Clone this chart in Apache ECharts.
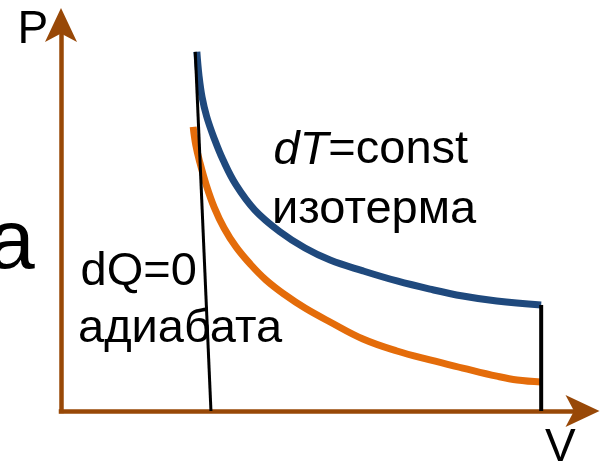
<!DOCTYPE html>
<html>
<head>
<meta charset="utf-8">
<script src="https://cdn.jsdelivr.net/npm/echarts@6/dist/echarts.min.js"></script>
<style>
html,body{margin:0;padding:0;background:#fff;}
#c{width:604px;height:466px;}
</style>
</head>
<body>
<div id="c"></div>
<script>
// Isotherm (blue) – [V, P]
const isothermV = [2.60, 2.64, 2.70, 2.79, 2.93, 3.10, 3.35, 3.71, 4.19, 4.67, 5.15, 5.78, 6.43, 7.06, 7.69, 8.34, 9.19];
const isothermP = [9.28, 8.68, 8.11, 7.60, 7.05, 6.49, 5.84, 5.19, 4.63, 4.21, 3.90, 3.62, 3.36, 3.15, 2.97, 2.84, 2.74];
// Adiabat (orange) – [V, P]
const adiabatV = [2.53, 2.58, 2.66, 2.78, 2.93, 3.12, 3.35, 3.62, 3.92, 4.29, 4.67, 5.15, 5.78, 6.43, 7.06, 7.69, 8.34, 8.73, 9.19];
const adiabatP = [7.34, 6.87, 6.41, 5.84, 5.27, 4.73, 4.24, 3.80, 3.39, 3.00, 2.66, 2.30, 1.86, 1.55, 1.32, 1.11, 0.90, 0.80, 0.75];
// Steep straight black line
const steepV = [2.57, 2.87];
const steepP = [9.28, 0];
// Vertical black line at the end volume
const endV = [9.19, 9.19];
const endP = [2.74, 0];

const axisTitles = ['P', 'V'];
const isoLabel = ['dT', '=const', 'изотерма'];
const adiaLabel = ['dQ=0', 'адиабата'];
const cutLetter = 'a';

const zip = (a, b) => a.map((v, i) => [v, b[i]]);

const axisColor = '#984807';
const font = '"Liberation Sans", Arial, sans-serif';
const fs = 47;

const chart = echarts.init(document.getElementById('c'), null, {renderer: 'canvas'});
chart.setOption({
  animation: false,
  backgroundColor: '#ffffff',
  grid: {left: 61, right: 20.5, top: 24, bottom: 55},
  xAxis: {
    type: 'value', min: 0, max: 10,
    axisLine: {show: true, onZero: false, symbol: ['none', 'arrow'], symbolSize: [24, 34], symbolOffset: [0, 16],
      lineStyle: {color: axisColor, width: 4.5, cap: 'square'}},
    axisTick: {show: false}, axisLabel: {show: false}, splitLine: {show: false}
  },
  yAxis: {
    type: 'value', min: 0, max: 10,
    axisLine: {show: true, onZero: false, symbol: ['none', 'arrow'], symbolSize: [24, 34], symbolOffset: [0, 16],
      lineStyle: {color: axisColor, width: 4.5, cap: 'square'}},
    axisTick: {show: false}, axisLabel: {show: false}, splitLine: {show: false}
  },
  series: [
    {type: 'line', data: zip(adiabatV, adiabatP), smooth: 0.4, symbol: 'none', clip: false, z: 2,
     lineStyle: {color: '#E46C0A', width: 7, cap: 'butt'}},
    {type: 'line', data: zip(isothermV, isothermP), smooth: 0.4, symbol: 'none', clip: false, z: 3,
     lineStyle: {color: '#1F497D', width: 7, cap: 'butt'}},
    {type: 'line', data: zip(steepV, steepP), symbol: 'none', clip: false, z: 4,
     lineStyle: {color: '#000', width: 3}},
    {type: 'line', data: zip(endV, endP), symbol: 'none', clip: false, z: 4,
     lineStyle: {color: '#000', width: 4}}
  ],
  graphic: [
    {type: 'text', x: 17.5, y: 30.7, z: 10, style: {text: axisTitles[0], font: '46px ' + font, fill: '#000', verticalAlign: 'middle'}},
    {type: 'text', x: 545, y: 448.7, z: 10, style: {text: axisTitles[1], font: '46px ' + font, fill: '#000', verticalAlign: 'middle'}},
    {type: 'text', x: 273.5, y: 150.5, z: 10, style: {
      text: '{i|' + isoLabel[0] + '}' + isoLabel[1], font: fs + 'px ' + font, fill: '#000', verticalAlign: 'middle',
      rich: {i: {fontStyle: 'italic', fontSize: fs, fontFamily: font}}}},
    {type: 'text', x: 272, y: 210.5, z: 10, style: {text: isoLabel[2], font: fs + 'px ' + font, fill: '#000', verticalAlign: 'middle'}},
    {type: 'text', x: 80.5, y: 272.5, z: 10, style: {text: adiaLabel[0], font: fs + 'px ' + font, fill: '#000', verticalAlign: 'middle'}},
    {type: 'text', x: 78, y: 329.5, z: 10, style: {text: adiaLabel[1], font: fs + 'px ' + font, fill: '#000', verticalAlign: 'middle'}},
    {type: 'text', x: -12, y: 245, z: 10, style: {text: cutLetter, font: '84px ' + font, fill: '#000', verticalAlign: 'middle'}}
  ]
});
</script>
</body>
</html>
